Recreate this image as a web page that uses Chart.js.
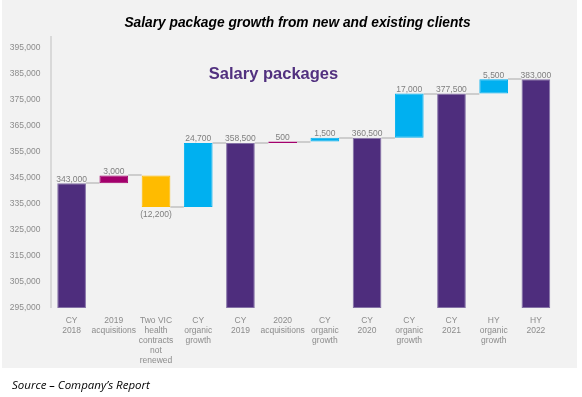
<!DOCTYPE html>
<html>
<head>
<meta charset="utf-8">
<script src="https://cdn.jsdelivr.net/npm/chart.js@4.4.1/dist/chart.umd.min.js"></script>
<style>
  html, body { margin: 0; padding: 0; background: #ffffff; }
  #wrap { position: relative; width: 582px; height: 397px; }
</style>
</head>
<body>
<div id="wrap"><canvas id="myChart" width="582" height="397"></canvas></div>
<script>
const categories = [
    ["CY", "2018"],
    ["2019", "acquisitions"],
    ["Two VIC", "health", "contracts", "not", "renewed"],
    ["CY", "organic", "growth"],
    ["CY", "2019"],
    ["2020", "acquisitions"],
    ["CY", "organic", "growth"],
    ["CY", "2020"],
    ["CY", "organic", "growth"],
    ["CY", "2021"],
    ["HY", "organic", "growth"],
    ["HY", "2022"]
];
const barStart = [295000, 343000, 346000, 333800, 295000, 358500, 359000, 295000, 360500, 295000, 377500, 295000];
const barEnd = [343000, 346000, 333800, 358500, 358500, 359000, 360500, 360500, 377500, 377500, 383000, 383000];
const barLabels = ["343,000", "3,000", "(12,200)", "24,700", "358,500", "500", "1,500", "360,500", "17,000", "377,500", "5,500", "383,000"];
const barKinds = ["total", "acq", "loss", "organic", "total", "acq", "organic", "total", "organic", "total", "organic", "total"];
const yMin = 295000;
const yMax = 395000;
const yStep = 10000;

const kindColors = { total: "#4e2d7d", acq: "#a3006c", loss: "#ffbb00", organic: "#00b0f0" };
const kindBorders = { total: "#8471a6", acq: "#a3006c", loss: "#ffbb00", organic: "#00b0f0" };

const panelPlugin = {
    id: "panel",
    beforeDraw: (chart) => {
        const ctx = chart.ctx;
        ctx.save();
        ctx.fillStyle = "#f2f2f2";
        ctx.fillRect(2, 0, 575, 368);
        // y axis line
        ctx.fillStyle = "#d9d9d9";
        ctx.fillRect(50, 36, 2, 272);
        ctx.restore();
    },
    afterDraw: (chart) => {
        const ctx = chart.ctx;
        ctx.save();
        ctx.fillStyle = "#000000";
        ctx.textAlign = "center";
        ctx.textBaseline = "alphabetic";
        ctx.font = "italic bold 14px 'Liberation Sans'";
        let size = 14;
        const title = "Salary package growth from new and existing clients";
        while (ctx.measureText(title).width > 349 && size > 8) {
            size -= 0.25;
            ctx.font = "italic bold " + size + "px 'Liberation Sans'";
        }
        ctx.fillText(title, 297.5, 27);

        ctx.fillStyle = "#51307f";
        ctx.font = "bold 16.5px 'Liberation Sans'";
        ctx.textBaseline = "middle";
        ctx.fillText("Salary packages", 273.5, 74);

        ctx.fillStyle = "#000000";
        ctx.textAlign = "left";
        ctx.textBaseline = "alphabetic";
        size = 12;
        const source = "Source \u2013 Company\u2019s Report";
        ctx.font = "italic " + size + "px 'Open Sans'";
        while (ctx.measureText(source).width > 140 && size > 8) {
            size -= 0.25;
            ctx.font = "italic " + size + "px 'Open Sans'";
        }
        ctx.fillText(source, 12, 389);
        ctx.restore();
    }
};

const waterfallPlugin = {
    id: "waterfall",
    beforeDatasetsDraw: (chart) => {
        const ctx = chart.ctx;
        const meta = chart.getDatasetMeta(0);
        const y = chart.scales.y;
        ctx.save();
        ctx.strokeStyle = "#cdcdcd";
        ctx.lineWidth = 2;
        for (let i = 0; i < meta.data.length - 1; i++) {
            const a = meta.data[i];
            const b = meta.data[i + 1];
            const py = Math.round(y.getPixelForValue(barEnd[i]));
            ctx.beginPath();
            ctx.moveTo(a.x + a.width / 2, py);
            ctx.lineTo(b.x - b.width / 2, py);
            ctx.stroke();
        }
        ctx.restore();
    },
    afterDatasetsDraw: (chart) => {
        const ctx = chart.ctx;
        const meta = chart.getDatasetMeta(0);
        const y = chart.scales.y;
        ctx.save();
        ctx.fillStyle = "#7f7f7f";
        ctx.font = "8.5px 'Liberation Sans'";
        ctx.textAlign = "center";
        meta.data.forEach((bar, i) => {
            if (barKinds[i] === "loss") {
                ctx.textBaseline = "top";
                const py = y.getPixelForValue(Math.min(barStart[i], barEnd[i]));
                ctx.fillText(barLabels[i], bar.x, py + 3);
            } else {
                ctx.textBaseline = "alphabetic";
                const py = y.getPixelForValue(Math.max(barStart[i], barEnd[i]));
                ctx.fillText(barLabels[i], bar.x, py - 1.5);
            }
        });
        ctx.restore();
    }
};

const ctx = document.getElementById("myChart").getContext("2d");
const chart = new Chart(ctx, {
    type: "bar",
    data: {
        labels: categories,
        datasets: [{
            data: barStart.map((s, i) => [s, barEnd[i]]),
            backgroundColor: barKinds.map((k) => kindColors[k]),
            borderColor: barKinds.map((k) => kindBorders[k]),
            borderWidth: 1,
            borderSkipped: false,
            categoryPercentage: 1,
            barPercentage: 0.68
        }]
    },
    options: {
        responsive: false,
        animation: false,
        layout: {
            padding: { top: 48, right: 25, bottom: 0, left: 0 }
        },
        plugins: {
            legend: { display: false },
            tooltip: { enabled: false },
            title: { display: false }
        },
        scales: {
            x: {
                grid: { display: false, drawTicks: false },
                border: { display: false },
                ticks: {
                    color: "#8c8c8c",
                    font: { family: "'Liberation Sans'", size: 8.5, lineHeight: "10px" },
                    padding: 8,
                    maxRotation: 0,
                    autoSkip: false
                },
                afterFit: (scale) => { scale.height = 89; }
            },
            y: {
                min: yMin,
                max: yMax,
                grid: { display: false, drawTicks: false },
                border: { display: false },
                ticks: {
                    stepSize: yStep,
                    color: "#8c8c8c",
                    font: { family: "'Liberation Sans'", size: 8.5 },
                    padding: 10,
                    callback: (v) => v.toLocaleString("en-US")
                },
                afterFit: (scale) => { scale.width = 50.5; }
            }
        }
    },
    plugins: [panelPlugin, waterfallPlugin]
});
</script>
</body>
</html>
